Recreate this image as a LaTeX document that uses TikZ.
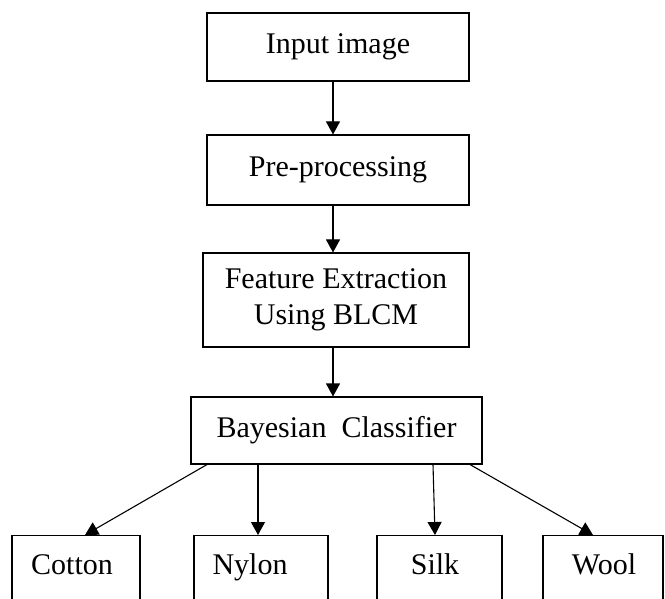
\documentclass[tikz,border=0pt]{standalone}
\usepackage{fontspec}
\setmainfont{Liberation Serif}
\usetikzlibrary{arrows.meta,calc}
\begin{document}
\begin{tikzpicture}[x=1pt,y=-1pt,
  box/.style={draw,line width=1.1pt,inner sep=0pt,font=\fontsize{30}{36}\selectfont,text height=20pt,text depth=7pt},
  leafbox/.style={draw,line width=1.1pt,inner sep=0pt,anchor=north,minimum height=100pt},
  leaftext/.style={font=\fontsize{30}{36}\selectfont,anchor=base,inner sep=0pt},
  arr/.style={line width=1.1pt,-{Triangle[length=13pt,width=14pt]}}]
\useasboundingbox (0,0) rectangle (665,599);
\clip (0,0) rectangle (665,599);
\node[box,minimum width=262pt,minimum height=68pt] (input) at (338,47) {Input image};
\node[box,minimum width=262pt,minimum height=70pt] (pre) at (338,170) {Pre-processing};
\node[box,minimum width=266pt,minimum height=94pt,align=center,text height=,text depth=] (feat) at (336,300) {Feature Extraction\\Using BLCM};
\node[box,minimum width=291pt,minimum height=67pt] (bayes) at (336.5,430.5) {Bayesian\ \ Classifier};
\node[leafbox,minimum width=128pt] (cotton) at (76,535) {};
\node[leafbox,minimum width=134pt] (nylon) at (261,535) {};
\node[leafbox,minimum width=125pt] (silk) at (439.5,535) {};
\node[leafbox,minimum width=120pt] (wool) at (603,535) {};
\node[leaftext] (tcotton) at (72,574) {Cotton};
\node[leaftext] (tnylon) at (250,574) {Nylon};
\node[leaftext] (tsilk) at (435,574) {Silk};
\node[leaftext] (twool) at (604,574) {Wool};
\coordinate (ax) at (333,0);
\draw[arr] (input.south -| ax) -- (pre.north -| ax);
\draw[arr] (pre.south -| ax) -- (feat.north -| ax);
\draw[arr] (feat.south -| ax) -- (bayes.north -| ax);
\coordinate (b1) at (207,0);
\coordinate (b2) at (258,0);
\coordinate (b3) at (433,0);
\coordinate (b4) at (470,0);
\coordinate (e1) at (85,0);
\coordinate (e3) at (435,0);
\coordinate (e4) at (593,0);
\draw[arr] (bayes.south -| b1) -- (cotton.north -| e1);
\draw[arr] (bayes.south -| b2) -- (nylon.north -| b2);
\draw[arr] (bayes.south -| b3) -- (silk.north -| e3);
\draw[arr] (bayes.south -| b4) -- (wool.north -| e4);
\end{tikzpicture}
\end{document}
